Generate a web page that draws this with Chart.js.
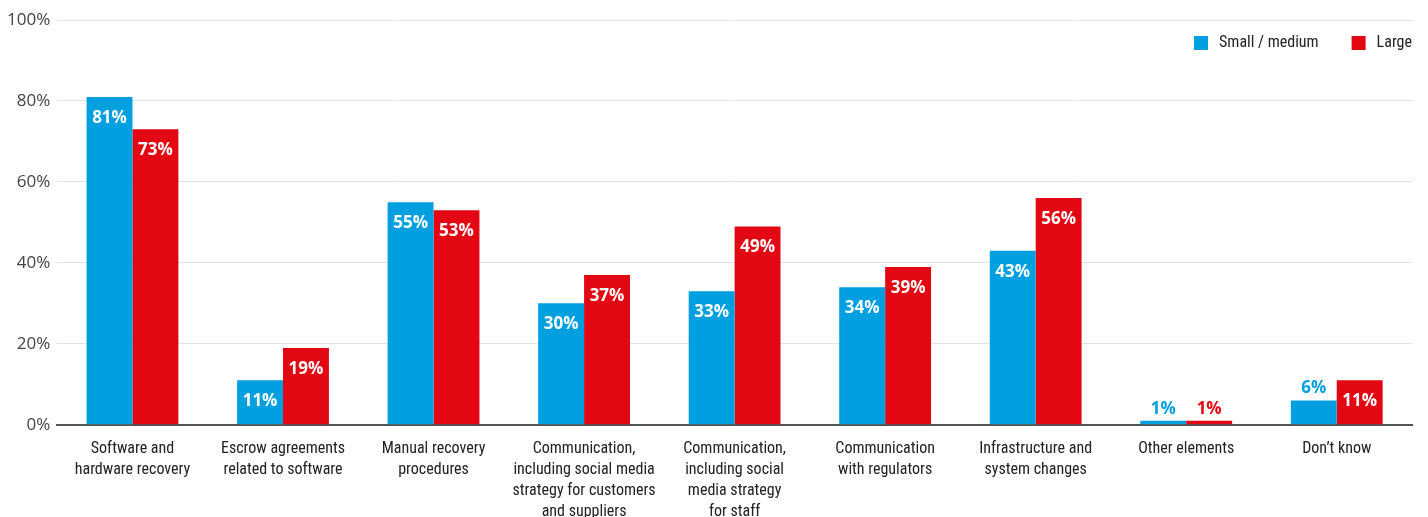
<!DOCTYPE html>
<html>
<head>
<meta charset="utf-8">
<script src="https://cdn.jsdelivr.net/npm/chart.js@4/dist/chart.umd.min.js"></script>
<style>
  html, body { margin: 0; padding: 0; background: #fff; overflow: hidden; }
  #wrap { position: relative; width: 1428px; height: 536px; }
</style>
</head>
<body>
<div id="wrap"><canvas id="myChart"></canvas></div>
<script>
// chart data
const categories = [
    ['Software and', 'hardware recovery'],
    ['Escrow agreements', 'related to software'],
    ['Manual recovery', 'procedures'],
    ['Communication,', 'including social media', 'strategy for customers', 'and suppliers'],
    ['Communication,', 'including social', 'media strategy', 'for staff'],
    ['Communication', 'with regulators'],
    ['Infrastructure and', 'system changes'],
    ['Other elements'],
    ['Don\u2019t know']
];
const smallMedium = [81, 11, 55, 30, 33, 34, 43, 1, 6];
const large = [73, 19, 53, 37, 49, 39, 56, 1, 11];
const seriesNames = ['Small / medium', 'Large'];
const yTicks = [0, 20, 40, 60, 80, 100];

const BLUE = '#009fe0';
const RED = '#e30613';
const condensed = '"Liberation Sans Narrow", "Roboto Condensed", "Noto Sans", sans-serif';

// value labels drawn on / above bars
const barLabels = {
    id: 'barLabels',
    afterDatasetsDraw(chart) {
        const ctx = chart.ctx;
        ctx.save();
        ctx.font = 'bold 17px "Open Sans", sans-serif';
        ctx.textAlign = 'center';
        ctx.textBaseline = 'middle';
        chart.data.datasets.forEach((ds, i) => {
            const meta = chart.getDatasetMeta(i);
            meta.data.forEach((bar, j) => {
                const v = ds.data[j];
                if (v < 8) {
                    ctx.fillStyle = ds.backgroundColor;
                    ctx.fillText(v + '%', bar.x, bar.y - 12);
                } else {
                    ctx.fillStyle = '#fff';
                    ctx.fillText(v + '%', bar.x, bar.y + 21);
                }
            });
        });
        ctx.restore();
    }
};

// legend in the top right corner of the plot
const cornerLegend = {
    id: 'cornerLegend',
    afterDraw(chart) {
        const ctx = chart.ctx;
        const box = 14, gap = 11, between = 33;
        const y = chart.chartArea.top + 23;
        ctx.save();
        ctx.font = '16px ' + condensed;
        ctx.textBaseline = 'middle';
        ctx.textAlign = 'left';
        let x = chart.chartArea.right;
        const items = chart.data.datasets.slice().reverse();
        items.forEach(ds => {
            const w = ctx.measureText(ds.label).width;
            x -= w;
            ctx.fillStyle = '#222';
            ctx.fillText(ds.label, x, y);
            x -= gap + box;
            ctx.fillStyle = ds.backgroundColor;
            ctx.fillRect(x, y - box / 2, box, box);
            x -= between;
        });
        ctx.restore();
    }
};

const ctx = document.getElementById('myChart').getContext('2d');
const myChart = new Chart(ctx, {
    type: 'bar',
    data: {
        labels: categories,
        datasets: [{
            label: seriesNames[0],
            data: smallMedium,
            backgroundColor: BLUE
        }, {
            label: seriesNames[1],
            data: large,
            backgroundColor: RED
        }]
    },
    options: {
        responsive: true,
        maintainAspectRatio: false,
        animation: false,
        categoryPercentage: 0.61,
        barPercentage: 1.0,
        layout: {
            padding: { left: 0, right: 16, top: 20, bottom: 0 }
        },
        plugins: {
            legend: { display: false },
            tooltip: { enabled: false }
        },
        scales: {
            x: {
                grid: { display: false, drawTicks: false },
                border: { color: '#555', width: 2 },
                ticks: {
                    autoSkip: false,
                    maxRotation: 0,
                    padding: 14,
                    color: '#222',
                    font: { family: condensed, size: 16, lineHeight: 1.3 }
                }
            },
            y: {
                min: 0,
                max: 100,
                afterBuildTicks: axis => {
                    axis.ticks = yTicks.map(v => ({ value: v }));
                },
                grid: { color: '#e3e3e3', drawTicks: false },
                border: { display: false },
                ticks: {
                    padding: 7,
                    color: '#444',
                    font: { family: '"Open Sans", sans-serif', size: 17 },
                    callback: v => v + '%'
                }
            }
        }
    },
    plugins: [barLabels, cornerLegend]
});
</script>
</body>
</html>
